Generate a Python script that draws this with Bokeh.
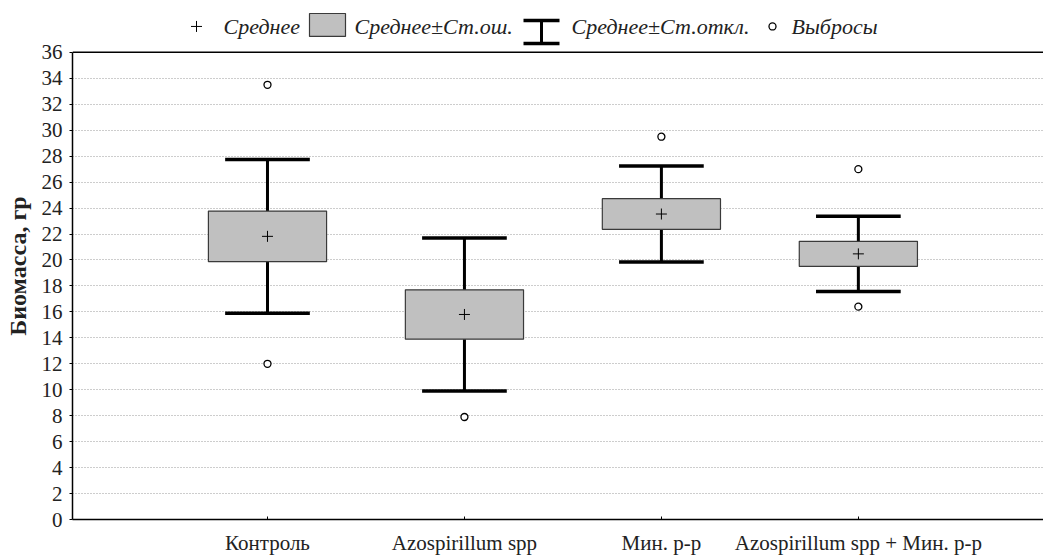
from bokeh.plotting import figure
from bokeh.models import Range1d, FixedTicker, Span
from bokeh.embed import file_html
from bokeh.resources import INLINE
from bokeh.core.properties import value

# ---------------- data ----------------
categories = ["Контроль", "Azospirillum spp", "Мин. p-p", "Azospirillum spp + Мин. p-p"]
means = [21.82, 15.8, 23.54, 20.47]
std_err = [1.95, 1.9, 1.18, 0.97]
std_dev = [5.92, 5.9, 3.7, 2.9]
outlier_group = [0, 0, 1, 2, 3, 3]
outlier_value = [33.5, 12.0, 7.9, 29.5, 27.0, 16.4]
y_ticks = [0, 2, 4, 6, 8, 10, 12, 14, 16, 18, 20, 22, 24, 26, 28, 30, 32, 34, 36]
legend_labels = ["Среднее", "Среднее±Ст.ош.", "Среднее±Ст.откл.", "Выбросы"]
y_label = "Биомасса, гр"

# ---------------- derived ----------------
pos = [i + 1 for i in range(len(categories))]
box_lo = [m - s for m, s in zip(means, std_err)]
box_hi = [m + s for m, s in zip(means, std_err)]
wh_lo = [m - s for m, s in zip(means, std_dev)]
wh_hi = [m + s for m, s in zip(means, std_dev)]
out_x = [pos[g] for g in outlier_group]

BOX_W = 0.6
CAP_W = 0.43
FONT = "Liberation Serif"

W, H = 1043, 557
BL, BR, BT, BB = 72, 0, 12, 36
frame_h = H - BT - BB
y_top = 36 * frame_h / (frame_h - 40)

p = figure(width=W, height=H, output_backend="svg", toolbar_location=None,
           x_range=Range1d(0.01, 4.94), y_range=Range1d(0, y_top),
           min_border_left=BL, min_border_right=BR, min_border_top=BT,
           min_border_bottom=BB, background_fill_color="white",
           border_fill_color="white")
p.outline_line_color = None

# legend coordinate system in page pixels
p.extra_x_ranges = {"lx": Range1d(BL, W - BR)}
p.extra_y_ranges = {"ly": Range1d(H - BB, BT)}

# grid
p.xgrid.visible = False
p.ygrid.ticker = FixedTicker(ticks=y_ticks)
p.ygrid.grid_line_color = "#9a9a9a"
p.ygrid.grid_line_dash = "1 2"
p.ygrid.grid_line_width = 1

# axes
ya = p.yaxis[0]
ya.ticker = FixedTicker(ticks=y_ticks)
ya.bounds = (0, 36)
ya.axis_line_color = "black"
ya.axis_line_width = 1.5
ya.major_tick_out = 3
ya.major_tick_in = 0
ya.minor_tick_line_color = None
ya.major_label_standoff = 7
ya.major_label_text_font = FONT
ya.major_label_text_font_size = "21px"
ya.major_label_text_color = "#222222"
ya.axis_label = y_label
ya.axis_label_text_font = FONT
ya.axis_label_text_font_style = "bold"
ya.axis_label_text_font_size = "24px"
ya.axis_label_text_color = "#222222"
ya.axis_label_standoff = 8

xa = p.xaxis[0]
xa.ticker = FixedTicker(ticks=pos)
xa.major_label_overrides = {p_: c for p_, c in zip(pos, categories)}
xa.axis_line_color = "black"
xa.axis_line_width = 1.5
xa.major_tick_in = 3
xa.major_tick_out = 0
xa.minor_tick_line_color = None
xa.major_label_standoff = 11
xa.major_label_text_font = FONT
xa.major_label_text_font_size = "21px"
xa.major_label_text_color = "#222222"

# top border
p.add_layout(Span(location=36, dimension="width", line_color="black", line_width=1.5))

# whisker stems
p.segment(x0=pos, x1=pos, y0=wh_lo, y1=wh_hi, line_color="black", line_width=3)
# boxes (mean ± SE)
p.quad(left=[x - BOX_W / 2 for x in pos], right=[x + BOX_W / 2 for x in pos],
       bottom=box_lo, top=box_hi, fill_color="#c0c0c0", line_color="#3a3a3a",
       line_width=1.2)
# caps (mean ± SD)
p.segment(x0=[x - CAP_W / 2 for x in pos], x1=[x + CAP_W / 2 for x in pos],
          y0=wh_hi, y1=wh_hi, line_color="black", line_width=3.5)
p.segment(x0=[x - CAP_W / 2 for x in pos], x1=[x + CAP_W / 2 for x in pos],
          y0=wh_lo, y1=wh_lo, line_color="black", line_width=3.5)
# means
p.scatter(x=pos, y=means, marker="cross", size=11, line_color="black", line_width=1)
# outliers
p.scatter(x=out_x, y=outlier_value, marker="circle", size=7, fill_color="white",
          line_color="black", line_width=1.3)

# ---------------- legend (page-pixel coordinates) ----------------
LY = 26
kw = dict(x_range_name="lx", y_range_name="ly")
p.scatter(x=[196], y=[LY], marker="cross", size=11, line_color="black",
          line_width=1, **kw)
p.quad(left=[309], right=[345], top=[13], bottom=[36],
       fill_color="#c0c0c0", line_color="#3a3a3a", line_width=1.2, **kw)
p.segment(x0=[541], x1=[541], y0=[20], y1=[43], line_color="black",
          line_width=3, **kw)
p.segment(x0=[523, 523], x1=[559, 559], y0=[20, 43], y1=[20, 43],
          line_color="black", line_width=3.5, **kw)
p.scatter(x=[772], y=[LY], marker="circle", size=7, fill_color="white",
          line_color="black", line_width=1.3, **kw)
p.text(x=[223, 354, 571, 791], y=[LY] * 4, text=legend_labels,
       text_font=value(FONT), text_font_style="italic", text_font_size="22px",
       text_color="#222222", text_baseline="middle", text_align="left", **kw)

open("out.html", "w").write(file_html(p, INLINE))
